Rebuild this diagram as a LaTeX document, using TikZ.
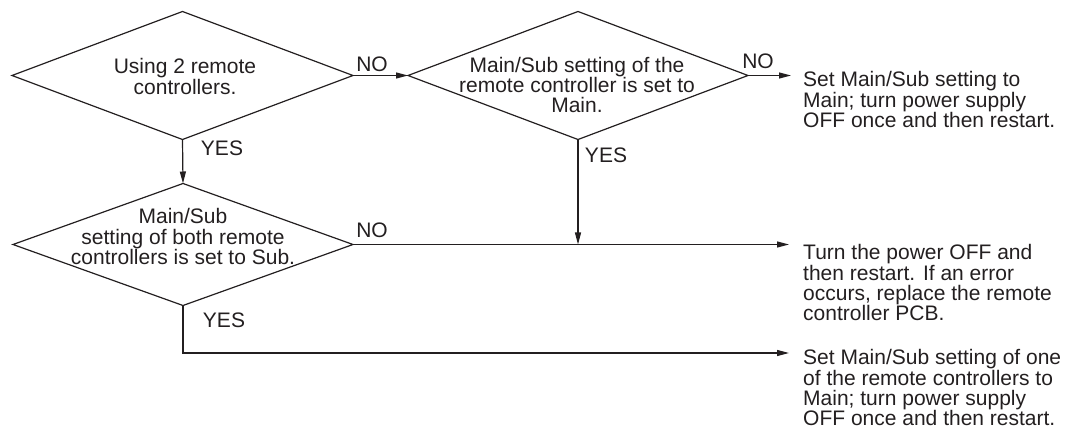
\documentclass[tikz,border=0pt]{standalone}
\usepackage{fontspec}
\setmainfont{Liberation Sans}
\usetikzlibrary{arrows.meta,shapes.geometric}
\definecolor{ink}{HTML}{231F20}
\begin{document}
\begin{tikzpicture}[x=1pt,y=-1pt,
  dia/.style={draw=ink, line width=1.2pt, diamond, inner sep=0pt, outer sep=0pt},
  txt/.style={text=ink, align=center, inner sep=0pt, font=\fontsize{21}{20.3}\selectfont},
  rtxt/.style={text=ink, align=left, inner sep=0pt, anchor=north west, font=\fontsize{21}{20.3}\selectfont},
  lbl/.style={text=ink, inner sep=0pt, font=\fontsize{21}{20.3}\selectfont},
  arr/.style={draw=ink, line width=1.2pt, -{Triangle[length=12pt,width=6pt]}},
  ln/.style={draw=ink, line width=1.2pt}]
\useasboundingbox (0,0) rectangle (1076,430);
% decisions
\node[dia, minimum width=341pt, minimum height=128pt] (d1) at (182.5,75.5) {};
\node[dia, minimum width=340pt, minimum height=128pt] (d2) at (578,75.5) {};
\node[dia, minimum width=340pt, minimum height=122pt] (d3) at (183,244.5) {};
\node[txt] (t1) at (185,76.5) {Using 2 remote\\controllers.};
\node[txt] (t2) at (577,85) {Main/Sub setting of the\\remote controller is set to\\Main.};
\node[txt] (t3) at (183,236.5) {Main/Sub\\setting of both remote\\controllers is set to Sub.};
% results
\node[rtxt] (r1) at (803,71.5) {Set Main/Sub setting to\\Main; turn power supply\\OFF once and then restart.};
\node[rtxt] (r2) at (803,244.5) {Turn the power OFF and\\then restart. If an error\\occurs, replace the remote\\controller PCB.};
\node[rtxt] (r3) at (803,349.5) {Set Main/Sub setting of one\\of the remote controllers to\\Main; turn power supply\\OFF once and then restart.};
% connector ends
\coordinate (e1) at (791,75.5);
\coordinate (e2) at (789,244.5);
\coordinate (e3) at (789,353);
\coordinate (j) at (578,244.5);
% connectors
\draw[arr] (d1.east) -- (d2.west);
\draw[arr] (d2.east) -- (e1);
\draw[arr] (d1.south) -- (d3.north);
\draw[arr] (d2.south) -- (j);
\draw[arr] (d3.east) -- (e2);
\draw[arr] (d3.south) |- (e3);
% labels
\node[lbl] (no1) at (372,64) {NO};
\node[lbl] (no2) at (758,61) {NO};
\node[lbl] (no3) at (372,230) {NO};
\node[lbl] (yes1) at (222,148.5) {YES};
\node[lbl] (yes2) at (606,155) {YES};
\node[lbl] (yes3) at (224,320) {YES};
\end{tikzpicture}
\end{document}
